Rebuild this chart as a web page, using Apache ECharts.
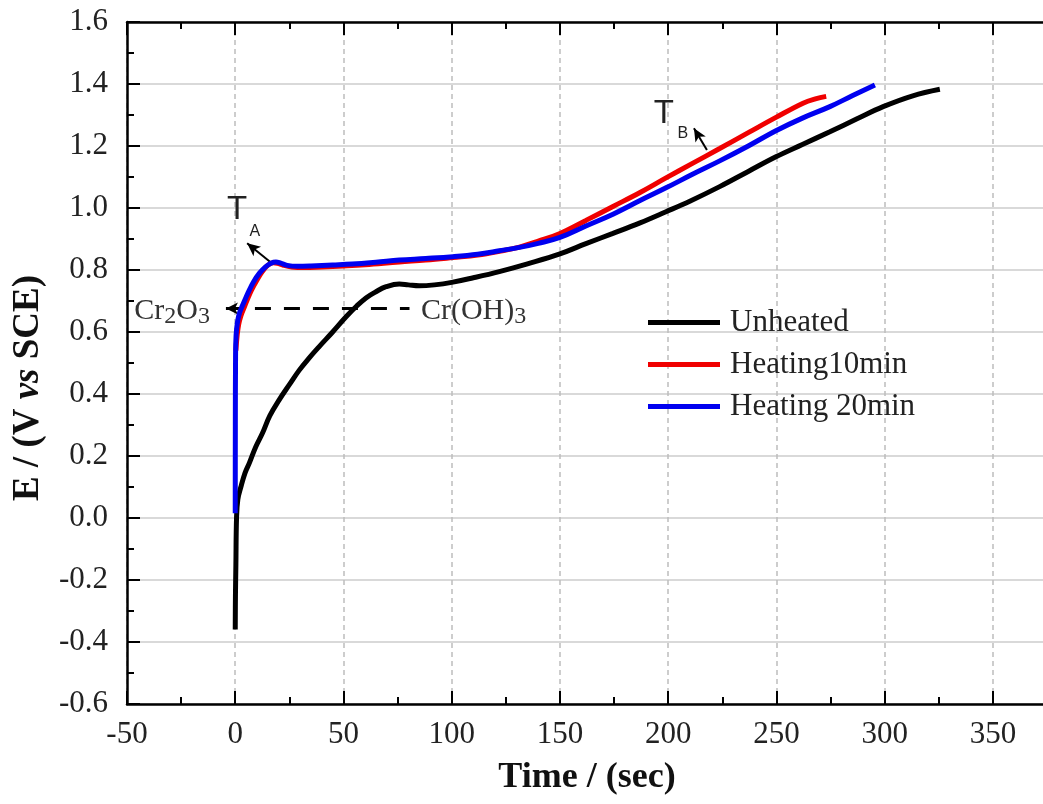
<!DOCTYPE html>
<html>
<head>
<meta charset="utf-8">
<title>E - Time</title>
<script src="https://cdn.jsdelivr.net/npm/echarts@6/dist/echarts.min.js"></script>
</head>
<body style="margin:0;background:#fff">
<div id="container" style="width:1043px;height:804px;"></div>
<script>
// 三条曲线 [time, E]
var seriesNames = ['Unheated', 'Heating10min', 'Heating 20min'];
var unheated = [[0, -0.36], [0.1, -0.25], [0.3, -0.15], [0.6, 0.0], [1.2, 0.06], [2.6, 0.10], [4.5, 0.145],
  [6.5, 0.177], [9.5, 0.23], [12.6, 0.274], [16, 0.33], [20.3, 0.381], [25, 0.43], [29.6, 0.477], [34, 0.515],
  [38.8, 0.553], [45, 0.60], [51.2, 0.649], [56, 0.683], [60.4, 0.71], [65, 0.73], [69.7, 0.746], [75.8, 0.755],
  [80, 0.752], [85, 0.749], [92, 0.752], [100, 0.76], [110, 0.775], [122, 0.795], [135, 0.82], [150, 0.852],
  [162, 0.885], [174.5, 0.918], [187, 0.952], [199, 0.988], [210, 1.022], [223.8, 1.069], [237, 1.118],
  [250, 1.166], [262, 1.205], [274.7, 1.246], [287, 1.287], [299.3, 1.327], [313, 1.362], [325.5, 1.383]];
var heating10 = [[0.3, 0.54], [0.9, 0.59], [1.6, 0.625], [2.6, 0.652], [4, 0.677], [5.5, 0.703], [7.5, 0.735],
  [10, 0.767], [12.5, 0.795], [15, 0.815], [17.5, 0.823], [19.5, 0.822], [22, 0.816], [26, 0.81], [32, 0.808],
  [40, 0.81], [50, 0.813], [60, 0.817], [75.8, 0.826], [88, 0.832], [100.5, 0.84], [112, 0.848], [122, 0.86],
  [131.3, 0.874], [140, 0.893], [150, 0.918], [162, 0.96], [174.5, 1.005], [187, 1.05], [199, 1.097],
  [211, 1.143], [223.8, 1.192], [237, 1.243], [250, 1.293], [262.3, 1.338], [268, 1.352], [273, 1.36]];
var heating20 = [[0, 0.015], [0.05, 0.3], [0.15, 0.52], [0.4, 0.59], [1.1, 0.635], [2, 0.662], [3.4, 0.686],
  [5, 0.712], [6.5, 0.735], [8.5, 0.762], [11.1, 0.789], [14, 0.81], [16.5, 0.822], [18.8, 0.826], [21, 0.822],
  [24, 0.815], [28.7, 0.812], [35, 0.813], [45, 0.816], [54, 0.819], [65, 0.825], [75.8, 0.832], [88, 0.837],
  [100.5, 0.843], [112, 0.851], [122, 0.862], [131.3, 0.873], [140, 0.886], [150, 0.905], [162, 0.942],
  [174.5, 0.98], [187, 1.024], [199, 1.065], [211, 1.108], [223.8, 1.152], [237, 1.2], [250, 1.25],
  [262, 1.29], [274.7, 1.327], [285, 1.362], [295.5, 1.397]];

// 标注：Cr2O3 / Cr(OH)3 虚线 和 两个箭头
var oxideLine = [[-4.3, 0.676], [80.5, 0.676]];
var arrowA = [[16.9, 0.822], [5.5, 0.886]];
var arrowB = [[217.9, 1.187], [211.9, 1.257]];

var serif = 'Liberation Serif';
var colors = ['#000000', '#f00000', '#0000f0'];

var myChart = echarts.init(document.getElementById('container'));

function xAxisCfg(pos) {
  return {
    type: 'value', position: pos, min: -50, max: 375, interval: 50,
    axisLine: {show: true, onZero: false, lineStyle: {color: '#000', width: 2.5}},
    axisTick: {show: true, inside: true, length: 13, lineStyle: {color: '#000', width: 2}},
    minorTick: {show: true, splitNumber: 2, length: 7, lineStyle: {color: '#000', width: 2}},
    splitLine: {show: pos === 'bottom', lineStyle: {color: '#bdbdbd', width: 1.5, type: [5, 4]}},
    axisLabel: {show: pos === 'bottom', showMaxLabel: false, margin: 15,
      fontFamily: serif, fontSize: 31, color: '#222'},
    name: pos === 'bottom' ? 'Time / (sec)' : '',
    nameLocation: 'middle', nameGap: 56,
    nameTextStyle: {fontFamily: serif, fontSize: 36, fontWeight: 'bold', color: '#111'}
  };
}

var lineSeries = [unheated, heating10, heating20].map(function (d, i) {
  return {
    name: seriesNames[i], type: 'line', data: d,
    showSymbol: false, smooth: 0.4,
    lineStyle: {color: colors[i], width: 5}, itemStyle: {color: colors[i]},
    z: 3 + i
  };
});

lineSeries[0].markLine = {
  silent: true, animation: false,
  symbol: ['none', 'arrow'], symbolSize: [9, 13],
  label: {show: false},
  lineStyle: {color: '#000', width: 2, type: 'solid'},
  data: [
    [{coord: arrowA[0]}, {coord: arrowA[1]}],
    [{coord: arrowB[0]}, {coord: arrowB[1]}],
    [{coord: oxideLine[0], symbol: 'arrow', symbolSize: [9, 12],
      lineStyle: {color: '#000', width: 3, type: [16, 13]}},
     {coord: oxideLine[1], symbol: 'none'}]
  ]
};

var option = {
  animation: false,
  backgroundColor: '#fff',
  grid: {left: 127, right: -4, top: 22, bottom: 100, outerBoundsMode: 'none'},
  xAxis: [xAxisCfg('bottom'), xAxisCfg('top')],
  yAxis: {
    type: 'value', min: -0.6, max: 1.6, interval: 0.2,
    axisLine: {show: true, onZero: false, lineStyle: {color: '#000', width: 2.5}},
    axisTick: {show: true, inside: true, length: 13, lineStyle: {color: '#000', width: 2}},
    minorTick: {show: true, splitNumber: 2, length: 7, lineStyle: {color: '#000', width: 2}},
    splitLine: {show: true, lineStyle: {color: '#cccccc', width: 1.5}},
    axisLabel: {margin: 19, fontFamily: serif, fontSize: 31, color: '#222',
      formatter: function (v) { return v.toFixed(1); }}
  },
  legend: {
    data: seriesNames, orient: 'vertical', left: 643, top: 302,
    itemWidth: 72, itemHeight: 5, itemGap: 11, icon: 'rect',
    textStyle: {fontFamily: serif, fontSize: 31, color: '#222', padding: [0, 0, 0, 5]}
  },
  series: lineSeries
};
myChart.setOption(option);

// 文字标注（数据坐标定位）
function px(pt) { return myChart.convertToPixel({gridIndex: 0}, pt); }
var notes = [
  {text: 'T', at: [0.9, 0.994], family: 'Liberation Sans', size: 33},
  {text: 'A', at: [9.0, 0.923], family: 'Liberation Sans', size: 16},
  {text: 'T', at: [198, 1.305], family: 'Liberation Sans', size: 33},
  {text: 'B', at: [206.8, 1.239], family: 'Liberation Sans', size: 16}
];
var graphics = notes.map(function (n) {
  var p = px(n.at);
  return {type: 'text', x: p[0], y: p[1], z: 10,
    style: {text: n.text, fontFamily: n.family, fontSize: n.size, fill: '#222',
      align: 'center', verticalAlign: 'middle'}};
});
var chemRich = {
  n: {fontFamily: serif, fontSize: 30, lineHeight: 36, fill: '#333'},
  s: {fontFamily: serif, fontSize: 24, lineHeight: 14, verticalAlign: 'bottom', fill: '#333'}
};
[['{n|Cr}{s|2}{n|O}{s|3}', [-46.6, 0.668]], ['{n|Cr(OH)}{s|3}', [85.8, 0.668]]].forEach(function (c) {
  var p = px(c[1]);
  graphics.push({type: 'text', x: p[0], y: p[1], z: 10,
    style: {text: c[0], rich: chemRich, align: 'left', verticalAlign: 'middle'}});
});
// 纵轴标题
graphics.push({
  type: 'text', x: 28, y: 388, rotation: Math.PI / 2, z: 10,
  style: {
    text: '{b|E / (V }{i|vs}{b| SCE)}', align: 'center', verticalAlign: 'middle',
    rich: {
      b: {fontFamily: serif, fontSize: 37, fontWeight: 'bold', fill: '#111'},
      i: {fontFamily: serif, fontSize: 37, fontWeight: 'bold', fontStyle: 'italic', fill: '#111'}
    }
  }
});
myChart.setOption({graphic: graphics});
</script>
</body>
</html>
